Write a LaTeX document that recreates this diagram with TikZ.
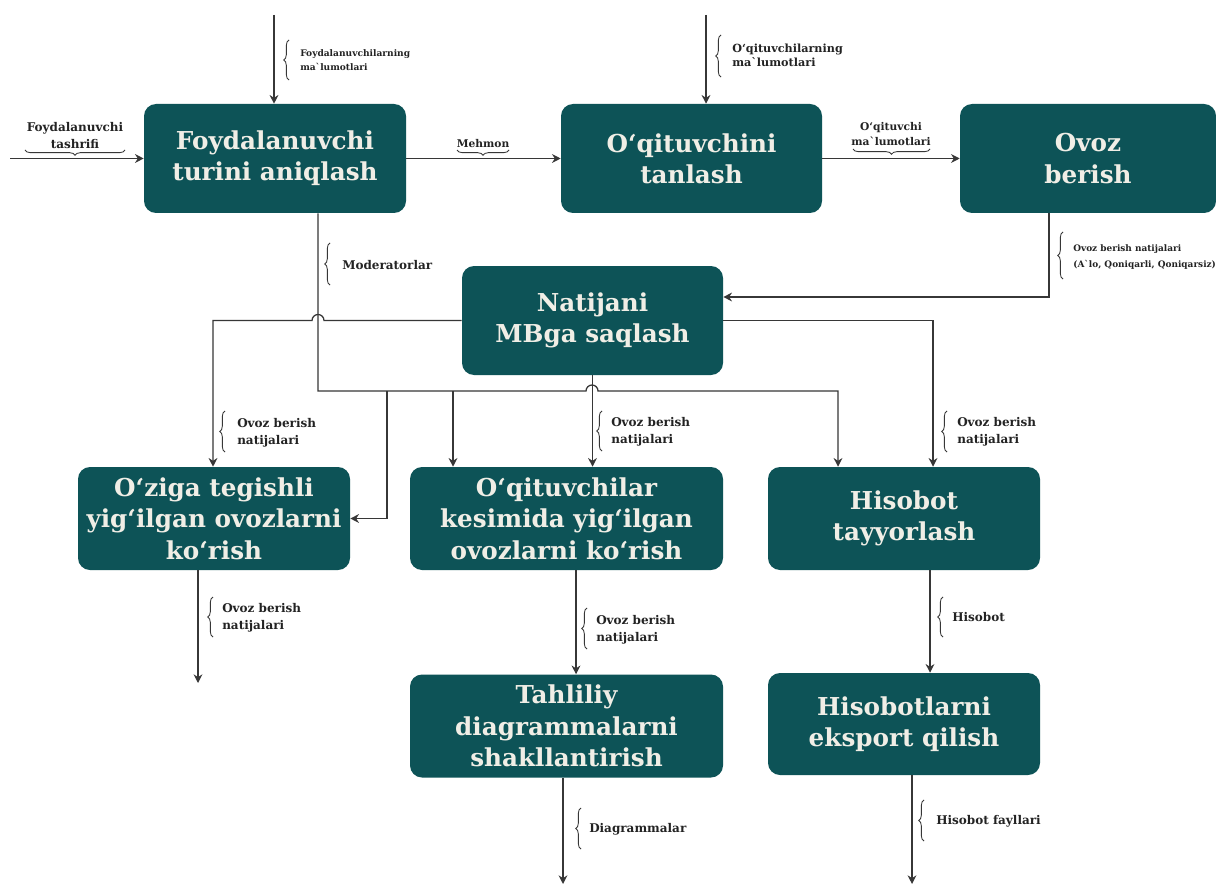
\documentclass[tikz,border=0pt]{standalone}
\usepackage{fontspec}
\setmainfont{DejaVu Serif}
\usetikzlibrary{arrows.meta,decorations.pathreplacing}
\definecolor{boxc}{RGB}{13,83,87}
\definecolor{boxt}{RGB}{240,238,230}
\definecolor{linec}{RGB}{55,55,55}
\definecolor{lblc}{RGB}{35,35,35}
\newcommand{\gv}{\textasciigrave{}}
\tikzset{
  proc/.style={fill=boxc, text=boxt, rounded corners=9pt, align=center,
    font=\fontsize{18.5}{23.5}\selectfont\bfseries, inner sep=0pt},
  bx/.style 2 args={minimum width=#1*0.75pt, minimum height=#2*0.75pt},
  conn/.style={draw=linec, line width=0.95pt, -{Stealth[length=6.5pt,width=6.5pt]}},
  brc/.style={draw=linec, line width=0.65pt, decorate, decoration={brace, amplitude=4pt}},
  lbl/.style={text=lblc, align=left, anchor=west, inner sep=0pt,
    font=\fontsize{9}{12.5}\selectfont\bfseries},
  lblc/.style={text=lblc, align=center, inner sep=0pt,
    font=\fontsize{8.5}{12}\selectfont\bfseries},
  tiny/.style={font=\fontsize{6.8}{11}\selectfont\bfseries}
}
\begin{document}
\begin{tikzpicture}[x=0.75pt,y=-0.75pt]
\fill[white] (0,0) rectangle (1216,884);
\useasboundingbox (0,0) rectangle (1216,884);

% boxes
\node[proc, bx={262}{109}] (b1) at (275,158.5) {Foydalanuvchi\\turini aniqlash};
\node[proc, bx={261}{109}] (b2) at (691.5,158.5) {O‘qituvchini\\tanlash};
\node[proc, bx={256}{109}] (b3) at (1088,158.5) {Ovoz\\berish};
\node[proc, bx={261}{109}] (b4) at (592.5,320.5) {Natijani\\MBga saqlash};
\node[proc, bx={272}{103}] (b5) at (214,518.5) {O‘ziga tegishli\\yig‘ilgan ovozlarni\\ko‘rish};
\node[proc, bx={313}{103}] (b6) at (566.5,518.5) {O‘qituvchilar\\kesimida yig‘ilgan\\ovozlarni ko‘rish};
\node[proc, bx={272}{103}] (b7) at (904,518.5) {Hisobot\\tayyorlash};
\node[proc, bx={313}{103}] (b8) at (566.5,726) {Tahliliy\\diagrammalarni\\shakllantirish};
\node[proc, bx={272}{102}] (b9) at (904,724) {Hisobotlarni\\eksport qilish};

% free ends and bend points
\coordinate (inT1) at (274,15);
\coordinate (inL1) at (10,158.5);
\coordinate (inT2) at (706,15);
\coordinate (k34) at (1049,297);
\coordinate (m0) at (318,391);
\coordinate (m1) at (838,391);
\coordinate (br5) at (387,391);
\coordinate (br6) at (453,391);
\coordinate (l5) at (213,320.5);
\coordinate (r7) at (933,320.5);
\coordinate (o5) at (198,683);
\coordinate (x6) at (576,0);
\coordinate (x7) at (930,0);
\coordinate (o8) at (563,884);
\coordinate (o9) at (912,884);

% connectors
\draw[conn] (inT1) -- (inT1 |- b1.north);
\draw[conn] (inL1) -- (b1.west);
\draw[conn] (b1.east) -- (b2.west);
\draw[conn] (inT2) -- (inT2 |- b2.north);
\draw[conn] (b2.east) -- (b3.west);
\draw[conn] (k34 |- b3.south) -- (k34) -- (k34 -| b4.east);
\draw[conn] (m0 |- b1.south) -- (m0) -- (586,391) arc[start angle=180, end angle=360, radius=6] -- (m1) -- (m1 |- b7.north);
\draw[conn] (br5) -- (br5 |- b5.east) -- (b5.east);
\draw[conn] (br6) -- (br6 |- b6.north);
\draw[conn] (b4.west) -- (324,320.5) arc[start angle=0, end angle=-180, radius=6] -- (l5) -- (l5 |- b5.north);
\draw[conn] (b4.east) -- (r7) -- (r7 |- b7.north);
\draw[conn] (b4.south) -- (b4.south |- b6.north);
\draw[conn] (o5 |- b5.south) -- (o5);
\draw[conn] (x6 |- b6.south) -- (x6 |- b8.north);
\draw[conn] (x7 |- b7.south) -- (x7 |- b9.north);
\draw[conn] (o8 |- b8.south) -- (o8);
\draw[conn] (o9 |- b9.south) -- (o9);

% labels
\draw[brc] (289,80) -- (289,40);
\node[lbl, tiny] (t1) at (300,60) {Foydalanuvchilarning\\ma\gv lumotlari};
\draw[brc] (721,77) -- (721,35);
\node[lbl, font=\fontsize{8.4}{10.5}\selectfont\bfseries] (t2) at (732,55) {O‘qituvchilarning\\ma\gv lumotlari};
\node[lblc, font=\fontsize{9}{12.75}\selectfont\bfseries] (t3) at (75,135.5) {Foydalanuvchi\\tashrifi};
\draw[brc] (125,150) -- (25,150);
\node[lblc, font=\fontsize{8}{11}\selectfont\bfseries] (t4) at (483,144) {Mehmon};
\draw[brc] (509,150) -- (457,150);
\node[lblc, font=\fontsize{8}{11.25}\selectfont\bfseries] (t5) at (891,134) {O‘qituvchi\\ma\gv lumotlari};
\draw[brc] (930,149) -- (853,149);
\draw[brc] (1063,279) -- (1063,232);
\node[lbl, font=\fontsize{6.7}{12}\selectfont\bfseries] (t6) at (1073,257) {Ovoz berish natijalari\\(A\gv lo, Qoniqarli, Qoniqarsiz)};
\draw[brc] (330,285) -- (330,243);
\node[lbl] (t7) at (342,265) {Moderatorlar};
\draw[brc] (225,452) -- (225,411);
\node[lbl] (t8) at (237,432.5) {Ovoz berish\\natijalari};
\draw[brc] (602,451) -- (602,411);
\node[lbl] (t9) at (611,431.5) {Ovoz berish\\natijalari};
\draw[brc] (947,452) -- (947,411);
\node[lbl] (t10) at (957,432) {Ovoz berish\\natijalari};
\draw[brc] (213,637) -- (213,597);
\node[lbl] (t11) at (222,617.5) {Ovoz berish\\natijalari};
\draw[brc] (587,649) -- (587,608);
\node[lbl] (t12) at (596,630) {Ovoz berish\\natijalari};
\draw[brc] (943,637) -- (943,597);
\node[lbl] (t13) at (952,617) {Hisobot};
\draw[brc] (581,849) -- (581,808);
\node[lbl] (t14) at (589,829) {Diagrammalar};
\draw[brc] (924,841) -- (924,800);
\node[lbl] (t15) at (936,821) {Hisobot fayllari};
\end{tikzpicture}
\end{document}
